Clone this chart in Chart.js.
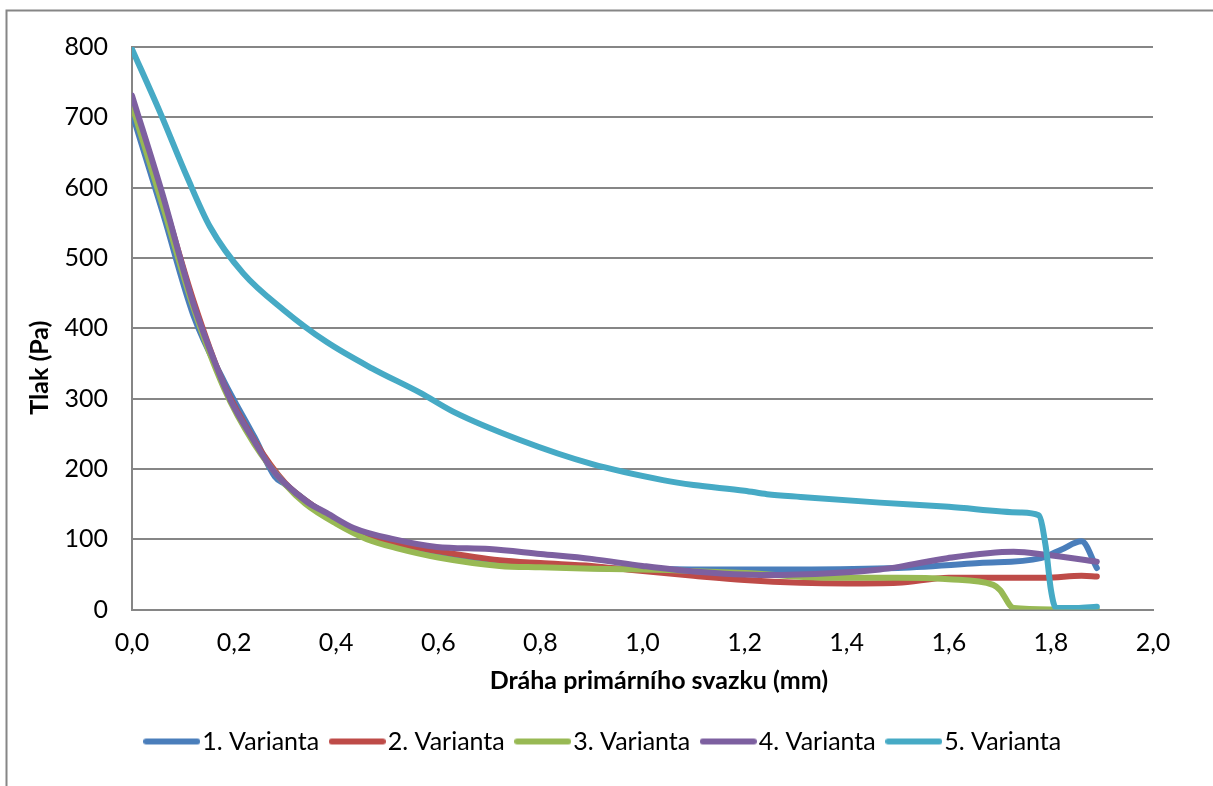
<!DOCTYPE html>
<html>
<head>
<meta charset="utf-8">
<script src="https://cdn.jsdelivr.net/npm/chart.js@4.4.1/dist/chart.umd.min.js"></script>
<style>
  html, body { margin: 0; padding: 0; background: #fff; }
  #wrap { width: 1213px; height: 786px; position: relative; }
</style>
</head>
<body>
<div id="wrap"><canvas id="c" width="1213" height="786"></canvas></div>
<script>
// Tlak podél dráhy primárního svazku pro pět variant
const seriesNames = ['1. Varianta', '2. Varianta', '3. Varianta', '4. Varianta', '5. Varianta'];
const seriesColors = ['#4A7EBB', '#BE4B48', '#98B954', '#7D60A0', '#46AAC5'];

const v1x = [0, 0.06, 0.12, 0.18, 0.24, 0.28, 0.30, 0.36, 0.44, 0.52, 0.60, 0.72, 0.80, 0.90, 1.00, 1.11, 1.30, 1.50, 1.66, 1.78, 1.82, 1.86, 1.89];
const v1y = [706, 565, 419, 325, 245, 189, 178, 145, 110, 92, 80, 65, 62, 59, 58, 57, 57, 59, 66, 73, 85, 97, 59];

const v2x = [0, 0.06, 0.12, 0.18, 0.24, 0.30, 0.36, 0.44, 0.52, 0.60, 0.72, 0.80, 0.90, 0.98, 1.10, 1.20, 1.31, 1.40, 1.50, 1.60, 1.73, 1.79, 1.86, 1.89];
const v2y = [718, 585, 440, 320, 240, 180, 145, 112, 94, 83, 70, 66, 62, 56, 48, 42, 38, 37, 38, 45, 45, 45, 48, 47];

const v3x = [0, 0.06, 0.12, 0.18, 0.24, 0.30, 0.34, 0.40, 0.46, 0.52, 0.60, 0.72, 0.80, 0.90, 1.05, 1.20, 1.375, 1.50, 1.60, 1.687, 1.70, 1.727, 1.80, 1.89];
const v3y = [717, 575, 430, 315, 235, 178, 150, 122, 100, 87, 74, 62, 60, 58, 56, 52, 45, 45, 43, 35, 28, 2, 0, 0];

const v4x = [0, 0.06, 0.118, 0.153, 0.193, 0.238, 0.271, 0.297, 0.343, 0.382, 0.434, 0.512, 0.597, 0.70, 0.80, 0.90, 1.00, 1.10, 1.244, 1.375, 1.465, 1.505, 1.597, 1.727, 1.79, 1.89];
const v4y = [731, 590, 440, 369, 298, 241, 203, 181, 153, 137, 116, 100, 89, 86, 79, 72, 62, 54, 49, 52, 57, 61, 73, 82, 78, 68];

const v5x = [0, 0.055, 0.108, 0.153, 0.218, 0.297, 0.38, 0.47, 0.565, 0.63, 0.76, 0.90, 1.04, 1.10, 1.20, 1.244, 1.31, 1.465, 1.60, 1.74, 1.776, 1.79, 1.80, 1.81, 1.85, 1.89];
const v5y = [797, 707, 615, 544, 478, 426, 381, 343, 308, 281, 241, 207, 184, 177, 169, 164, 160, 152, 146, 138, 134, 89, 28, 2, 2, 4];

const xTicks = [0, 0.2, 0.4, 0.6, 0.8, 1.0, 1.2, 1.4, 1.6, 1.8, 2.0];
const yTicks = [0, 100, 200, 300, 400, 500, 600, 700, 800];

const xTitle = 'Dráha primárního svazku (mm)';
const yTitle = 'Tlak (Pa)';

const xs = [v1x, v2x, v3x, v4x, v5x];
const ys = [v1y, v2y, v3y, v4y, v5y];

const FONT = 'Lato, "Open Sans", sans-serif';
const GRID = '#868686';
const LINE_W = 6;

const datasets = seriesNames.map((name, i) => ({
  label: name,
  data: xs[i].map((x, k) => ({ x: x, y: ys[i][k] })),
  borderColor: seriesColors[i],
  backgroundColor: seriesColors[i],
  borderWidth: LINE_W,
  borderCapStyle: 'round',
  borderJoinStyle: 'round',
  pointRadius: 0,
  pointHoverRadius: 0,
  fill: false,
  cubicInterpolationMode: 'monotone',
  // later series are painted over earlier ones
  order: seriesNames.length - i
}));

// Legend key: a short rounded line segment in the series colour
function legendKey(color) {
  const w = 57, h = 8;
  const cv = document.createElement('canvas');
  cv.width = w; cv.height = h;
  const g = cv.getContext('2d');
  g.strokeStyle = color;
  g.lineWidth = LINE_W;
  g.lineCap = 'round';
  g.beginPath();
  g.moveTo(LINE_W / 2, h / 2);
  g.lineTo(w - LINE_W / 2, h / 2);
  g.stroke();
  return cv;
}
const legendKeys = seriesColors.map(legendKey);

// Outer frame of the chart object
const framePlugin = {
  id: 'frame',
  beforeDraw(chart) {
    const ctx = chart.ctx;
    ctx.save();
    ctx.strokeStyle = GRID;
    ctx.lineWidth = 2;
    ctx.strokeRect(6.5, 10.5, chart.width + 20, chart.height + 20);
    ctx.restore();
  }
};

// Axis titles
const titlesPlugin = {
  id: 'axisTitles',
  afterDraw(chart) {
    const ctx = chart.ctx;
    const area = chart.chartArea;
    ctx.save();
    ctx.fillStyle = '#000';
    ctx.font = 'bold 25px ' + FONT;
    ctx.textAlign = 'center';
    ctx.textBaseline = 'middle';
    ctx.fillText(xTitle, area.left + (area.right - area.left) * 0.516, area.bottom + 71);
    ctx.translate(40, area.top + (area.bottom - area.top) * 0.57);
    ctx.rotate(-Math.PI / 2);
    ctx.fillText(yTitle, 0, 0);
    ctx.restore();
  }
};

new Chart(document.getElementById('c'), {
  type: 'line',
  data: { datasets },
  plugins: [framePlugin, titlesPlugin],
  options: {
    responsive: false,
    animation: false,
    events: [],
    layout: { padding: { left: 62, top: 47, right: 60, bottom: 22 } },
    plugins: {
      legend: {
        position: 'bottom',
        labels: {
          usePointStyle: true,
          pointStyleWidth: 36,
          boxWidth: 36,
          boxHeight: 10,
          padding: 20,
          color: '#000',
          font: { family: FONT, size: 25 },
          sort: (a, b) => a.datasetIndex - b.datasetIndex,
          generateLabels(chart) {
            const items = Chart.defaults.plugins.legend.labels.generateLabels(chart);
            items.forEach(it => { it.pointStyle = legendKeys[it.datasetIndex]; });
            return items;
          }
        }
      },
      tooltip: { enabled: false }
    },
    scales: {
      x: {
        type: 'linear',
        min: 0,
        max: 2,
        afterBuildTicks(scale) { scale.ticks = xTicks.map(v => ({ value: v })); },
        afterFit(scale) { scale.height = 99.5; },
        grid: { display: false, drawTicks: false },
        border: { display: true, color: GRID, width: 2 },
        ticks: {
          padding: 18,
          color: '#000',
          font: { family: FONT, size: 25 },
          callback: v => v.toFixed(1).replace('.', ',')
        },
        title: { display: false }
      },
      y: {
        type: 'linear',
        min: 0,
        max: 800,
        afterBuildTicks(scale) { scale.ticks = yTicks.map(v => ({ value: v })); },
        afterFit(scale) { scale.width = 70; },
        grid: { color: GRID, lineWidth: 2, drawTicks: false },
        border: { display: true, color: GRID, width: 2 },
        ticks: {
          padding: 24,
          color: '#000',
          font: { family: FONT, size: 25 }
        },
        title: { display: false }
      }
    }
  }
});
</script>
</body>
</html>
